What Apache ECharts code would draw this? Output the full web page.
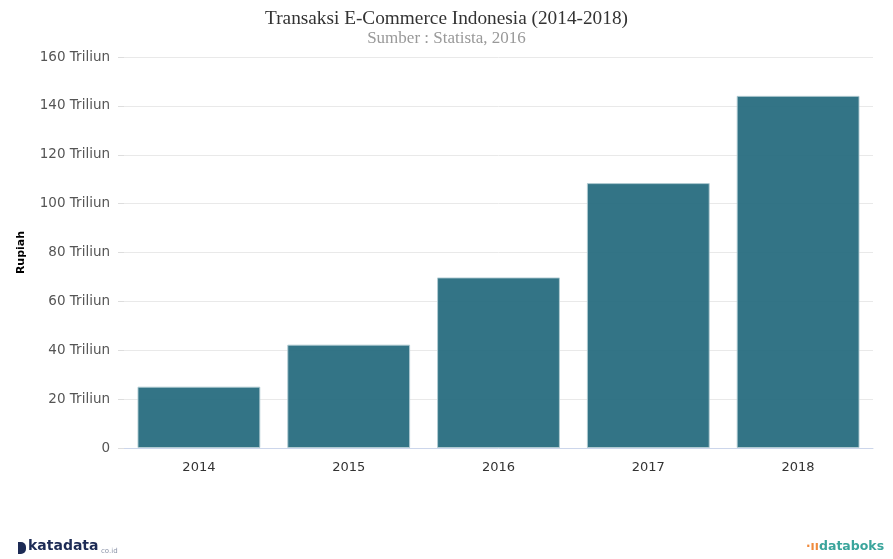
<!DOCTYPE html>
<html>
<head>
<meta charset="utf-8">
<script src="https://cdn.jsdelivr.net/npm/echarts@6/dist/echarts.min.js"></script>
<style>html,body{margin:0;padding:0;background:#fff}#c{width:893px;height:559px}</style>
</head>
<body>
<div id="c"></div>
<script>
var categories = ['2014', '2015', '2016', '2017', '2018'];
var values = [25.1, 42.3, 69.8, 108.4, 144.1];
var yTicks = [0, 20, 40, 60, 80, 100, 120, 140, 160];
var titleText = 'Transaksi E-Commerce Indonesia (2014-2018)';
var subtitleText = 'Sumber : Statista, 2016';
var yName = 'Rupiah';

var chart = echarts.init(document.getElementById('c'), null, {renderer: 'canvas'});
chart.setOption({
  animation: false,
  title: {
    text: titleText,
    subtext: subtitleText,
    left: 'center',
    top: 4,
    itemGap: 2,
    textStyle: {fontFamily: 'Liberation Serif', fontSize: 19.3, fontWeight: 'normal', color: '#333'},
    subtextStyle: {fontFamily: 'Liberation Serif', fontSize: 17, color: '#999'}
  },
  grid: {left: 124, right: 20, top: 57, bottom: 111, containLabel: false},
  xAxis: {
    type: 'category',
    data: categories,
    axisLine: {lineStyle: {color: '#ccd6eb', width: 1}},
    axisTick: {show: false},
    axisLabel: {fontFamily: 'DejaVu Sans', fontSize: 13, color: '#333', margin: 13}
  },
  yAxis: {
    type: 'value',
    min: yTicks[0],
    max: yTicks[yTicks.length - 1],
    interval: 20,
    name: yName,
    nameLocation: 'middle',
    nameRotate: 90,
    nameGap: 97,
    nameTextStyle: {fontFamily: 'DejaVu Sans', fontSize: 11, fontWeight: 'bold', color: '#000'},
    axisLine: {show: false},
    axisTick: {show: true, length: 6, lineStyle: {color: '#ddd'}},
    splitLine: {lineStyle: {color: '#e9e9e9'}},
    axisLabel: {
      fontFamily: 'DejaVu Sans', fontSize: 13.5, color: '#555', margin: 14,
      formatter: function (v) { return v === 0 ? '0' : v + ' Triliun'; }
    }
  },
  series: [{
    type: 'bar',
    data: values,
    barCategoryGap: '18%',
    itemStyle: {color: 'rgba(34,104,124,0.92)', borderColor: 'rgba(180,205,212,0.9)', borderWidth: 1}
  }],
  graphic: [
    {type: 'rect', left: 18, top: 542, shape: {width: 8, height: 12, r: [0, 5, 5, 0]}, style: {fill: '#1d2b55'}},
    {type: 'text', left: 28, top: 539, style: {text: 'katadata', font: 'bold 14px "DejaVu Sans"', fill: '#1d2b55'}},
    {type: 'text', left: 101, top: 548, style: {text: 'co.id', font: '7px "DejaVu Sans"', fill: '#8a93a8'}},
    {type: 'text', left: 806, top: 541, style: {text: '\u00b7\u0131\u0131\u00b7', font: 'bold 12px "DejaVu Sans"', fill: '#f08a3c'}},
    {type: 'text', left: 819, top: 540, style: {text: 'databoks', font: 'bold 12.5px "DejaVu Sans"', fill: '#3aa59c'}}
  ]
});
</script>
</body>
</html>
